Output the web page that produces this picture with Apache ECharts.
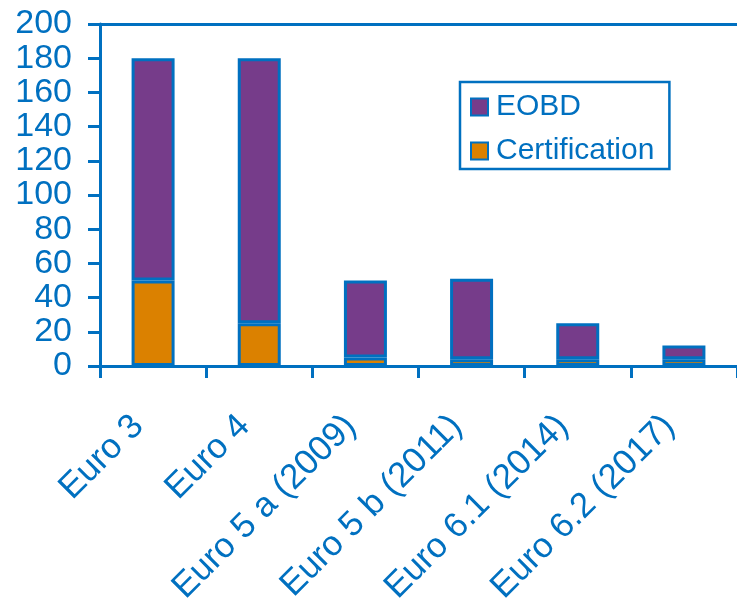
<!DOCTYPE html>
<html>
<head>
<meta charset="utf-8">
<script src="https://cdn.jsdelivr.net/npm/echarts@6/dist/echarts.min.js"></script>
<style>
  html, body { margin: 0; padding: 0; background: #fff; }
  #chart { width: 737px; height: 608px; }
</style>
</head>
<body>
<div id="chart"></div>
<script>
// Emission stages on the category axis
const categories = ['Euro 3', 'Euro 4', 'Euro 5 a (2009)', 'Euro 5 b (2011)', 'Euro 6.1 (2014)', 'Euro 6.2 (2017)'];
// Stacked components (bottom: Certification, top: EOBD)
const certification = [50, 25, 5, 4, 4, 4];
const eobd = [130, 155, 45, 47, 21, 8];
// Value axis settings
const yMin = 0;
const yMax = 200;
const yStep = 20;

const blue = '#0070C0';
const font = 'Liberation Sans, Arial, sans-serif';

const chart = echarts.init(document.getElementById('chart'), null, { renderer: 'canvas' });

const barStyle = (color) => ({
  color: color,
  borderColor: blue,
  borderWidth: 3
});

chart.setOption({
  animation: false,
  backgroundColor: '#ffffff',
  grid: { left: 100, top: 24, width: 642, height: 342, containLabel: false },
  legend: {
    orient: 'vertical',
    left: 460,
    top: 82,
    padding: [10, 15, 3, 10],
    itemGap: 14,
    itemWidth: 17,
    itemHeight: 17,
    icon: 'rect',
    borderColor: blue,
    borderWidth: 2.5,
    borderRadius: 0,
    data: ['EOBD', 'Certification'],
    textStyle: { color: blue, fontSize: 30, fontFamily: font, padding: [0, 0, 0, 3] }
  },
  xAxis: [{
    type: 'category',
    data: categories,
    position: 'bottom',
    axisLine: { show: true, lineStyle: { color: blue, width: 3 } },
    axisTick: { show: true, inside: false, length: 12, lineStyle: { color: blue, width: 3 } },
    axisLabel: {
      rotate: 45,
      interval: 0,
      margin: 40,
      padding: [0, 21, 0, 0],
      color: blue,
      fontSize: 35,
      fontFamily: font
    },
    splitLine: { show: false }
  }, {
    type: 'category',
    data: categories,
    position: 'top',
    axisLine: { show: true, lineStyle: { color: blue, width: 3 } },
    axisTick: { show: false },
    axisLabel: { show: false },
    splitLine: { show: false }
  }],
  yAxis: {
    type: 'value',
    min: yMin,
    max: yMax,
    interval: yStep,
    axisLine: { show: true, lineStyle: { color: blue, width: 3 } },
    axisTick: { show: true, inside: false, length: 12, lineStyle: { color: blue, width: 3 } },
    axisLabel: { margin: 28, color: blue, fontSize: 34, fontFamily: font },
    splitLine: { show: false }
  },
  series: [{
    name: 'Certification',
    type: 'bar',
    stack: 'total',
    barWidth: 43,
    data: certification,
    itemStyle: barStyle('#DB8100')
  }, {
    name: 'EOBD',
    type: 'bar',
    stack: 'total',
    barWidth: 43,
    data: eobd,
    itemStyle: barStyle('#763C8A')
  }]
});
</script>
</body>
</html>
